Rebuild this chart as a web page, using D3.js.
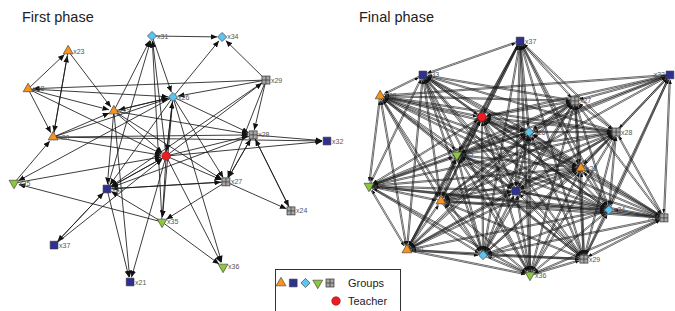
<!DOCTYPE html>
<html>
<head>
<meta charset="utf-8">
<script src="https://cdn.jsdelivr.net/npm/d3@7"></script>
<style>
  body { margin: 0; background: #fff; }
  svg { display: block; font-family: "Liberation Sans", Arial, sans-serif; }
</style>
</head>
<body>
<div id="chart"></div>
<script>
// ---- data: first phase ----
const firstNames  = ["x31","x34","x23","x29","x38","x26","x22","x30","x28","x32","T","x25","x33","x27","x24","x35","x37","x36","x21"];
const firstGroups = ["cyan","cyan","orange","grid","orange","cyan","orange","orange","grid","blue","teacher","green","blue","grid","grid","green","blue","green","blue"];
const firstLayoutX = [44.1, 66.5, 17.3, 80.5, 4.5, 50.8, 31.9, 12.5, 76.4, 100, 48.6, 0, 29.7, 67.7, 88.5, 47.3, 12.8, 66.8, 37.1];
const firstLayoutY = [0, 0.4, 6.1, 17.9, 21.5, 24.8, 30.5, 41.1, 40.2, 42.7, 48.8, 59.8, 62.2, 59.3, 71.1, 75.6, 85.0, 93.9, 100];
const firstEdges = [
  ["x31","x34"],["x29","x34"],["x26","x34"],["x22","x31"],["T","x31"],["x31","x26"],["x33","x31"],["x35","x31"],
  ["x38","x23"],["x30","x23"],["x23","x22"],["x23","x30"],["x38","x26"],["x38","x22"],["x38","x30"],["x38","T"],
  ["x29","x38"],["x22","x26"],["x26","x22"],["x22","T"],["x22","x28"],["x22","x27"],["x22","x33"],["x22","x21"],
  ["x30","x26"],["x30","x22"],["x30","T"],["x30","x28"],["x25","x30"],["x26","T"],["T","x26"],["x26","x28"],
  ["x29","x26"],["x26","x27"],["x26","x35"],["x26","x33"],["x26","x25"],["T","x28"],["T","x32"],["T","x27"],
  ["T","x35"],["x33","T"],["T","x33"],["x25","T"],["T","x36"],["T","x29"],["x29","x28"],["x29","x27"],
  ["x29","x33"],["x28","x32"],["x28","x27"],["x27","x28"],["x28","x24"],["x28","x33"],["x27","x24"],["x27","x33"],
  ["x33","x27"],["x27","x35"],["x35","x33"],["x35","x25"],["x33","x37"],["x37","x33"],["x33","x21"],["x35","x36"],
  ["T","x21"],["x37","T"],["x26","x36"],["x24","x28"],["x30","x32"]
];

// ---- data: final phase ----
const finalNames  = ["x37","x33","x32","x38","x27","T","x26","x28","x25","x23","x35","x21","x22","x34","x24","x30","x31","x29","x36"];
const finalGroups = ["blue","blue","blue","orange","grid","teacher","cyan","grid","green","orange","green","blue","orange","cyan","grid","orange","cyan","grid","green"];
const finalLayoutX = [50.2, 17.9, 100, 3.7, 68.4, 37.5, 53.2, 82.1, 29.2, 70.4, 0, 48.8, 23.9, 79.7, 98.0, 12.6, 37.9, 71.4, 53.5];
const finalLayoutY = [0, 14.5, 14.5, 23.5, 25.6, 32.5, 38.9, 38.9, 48.7, 54.3, 62.0, 64.1, 68.4, 72.2, 75.6, 89.3, 91.5, 93.2, 100];
const finalTies = {
  x37: ["x33","x27","T","x26","x28","x25","x23","x21","x22","x31","x29","x36","x34","x30"],
  x33: ["x38","x27","T","x26","x28","x25","x23","x35","x21","x22","x30","x31","x29","x36","x34"],
  x32: ["x27","x38","T","x28","x23","x34","x24","x29","x25","x26","x22"],
  x38: ["x27","T","x26","x28","x25","x23","x35","x21","x22","x30","x34","x24","x31","x29"],
  x27: ["T","x26","x28","x25","x23","x35","x21","x22","x34","x24","x30","x31","x29","x36"],
  T:   ["x26","x28","x25","x23","x35","x21","x22","x34","x24","x30","x31","x29","x36"],
  x26: ["x28","x25","x23","x35","x21","x22","x34","x24","x30","x31","x29","x36"],
  x28: ["x25","x23","x35","x21","x22","x34","x24","x30","x31","x29","x36"],
  x25: ["x23","x35","x21","x22","x34","x24","x30","x31","x29","x36"],
  x23: ["x35","x21","x22","x34","x24","x30","x31","x29","x36"],
  x35: ["x21","x22","x34","x24","x30","x31","x36"],
  x21: ["x22","x34","x24","x30","x31","x29","x36"],
  x22: ["x34","x24","x30","x31","x29","x36"],
  x34: ["x24","x30","x31","x29","x36"],
  x24: ["x31","x29","x36"],
  x30: ["x31","x29","x36"],
  x31: ["x29","x36"],
  x29: ["x36"]
};

const legendSymbols = ["orange","blue","cyan","green","grid"];

const colour = {
  orange: "#f7941d", blue: "#2e3192", cyan: "#5bc4f1",
  green: "#8dc63f", grid: "#a5a5a5", teacher: "#ed1c24"
};

const width = 675, height = 311;
const svg = d3.select("#chart").append("svg")
  .attr("width", width).attr("height", height);

const defs = svg.append("defs");
function addMarker(id, len, half) {
  defs.append("marker")
    .attr("id", id)
    .attr("viewBox", `0 ${-half} ${len} ${half * 2}`)
    .attr("refX", len).attr("refY", 0)
    .attr("markerWidth", len).attr("markerHeight", half * 2)
    .attr("markerUnits", "userSpaceOnUse")
    .attr("orient", "auto")
    .append("path")
    .attr("d", `M0,${-half}L${len},0L0,${half}Z`)
    .attr("fill", "#111");
}
addMarker("arrowBig", 6.5, 2.8);
addMarker("arrowSmall", 4, 1.6);

function drawSymbol(g, group, x, y) {
  const stroke = "#333";
  if (group === "teacher") {
    g.append("circle").attr("cx", x).attr("cy", y).attr("r", 4.3)
      .attr("fill", colour.teacher).attr("stroke", "#7a0000").attr("stroke-width", 0.5);
  } else if (group === "grid") {
    g.append("rect").attr("x", x - 4).attr("y", y - 4).attr("width", 8).attr("height", 8)
      .attr("fill", colour.grid).attr("stroke", stroke).attr("stroke-width", 0.7);
    g.append("path").attr("d", `M${x - 4},${y}H${x + 4}M${x},${y - 4}V${y + 4}`)
      .attr("stroke", stroke).attr("stroke-width", 0.7);
  } else {
    let type = d3.symbolSquare, size = 60, rot = 0;
    if (group === "orange") { type = d3.symbolTriangle; size = 42; }
    if (group === "green") { type = d3.symbolTriangle; size = 42; rot = 180; }
    if (group === "cyan") { type = d3.symbolSquare; size = 42; rot = 45; }
    g.append("path")
      .attr("d", d3.symbol().type(type).size(size)())
      .attr("transform", `translate(${x},${y}) rotate(${rot})`)
      .attr("fill", colour[group]).attr("stroke", stroke).attr("stroke-width", 0.6);
  }
}

function drawNetwork(opt) {
  const xs = d3.scaleLinear().domain([0, 100]).range(opt.xRange);
  const ys = d3.scaleLinear().domain([0, 100]).range(opt.yRange);
  const pos = {};
  opt.names.forEach((n, i) => {
    pos[n] = { x: xs(opt.lx[i]), y: ys(opt.ly[i]), group: opt.groups[i], name: n };
  });
  const g = svg.append("g");
  g.append("text").attr("x", opt.titleX).attr("y", 22)
    .attr("font-size", 14.5).attr("fill", "#222").text(opt.title);

  const eg = g.append("g");
  opt.edges.forEach(([s, t]) => {
    const a = pos[s], b = pos[t];
    const dx = b.x - a.x, dy = b.y - a.y, len = Math.hypot(dx, dy);
    const ux = dx / len, uy = dy / len;
    const off = opt.offset;
    const ox = -uy * off, oy = ux * off;
    eg.append("line")
      .attr("x1", a.x + ux * 3 + ox).attr("y1", a.y + uy * 3 + oy)
      .attr("x2", b.x - ux * opt.gap + ox).attr("y2", b.y - uy * opt.gap + oy)
      .attr("stroke", "#1a1a1a").attr("stroke-width", opt.sw)
      .attr("marker-end", `url(#${opt.marker})`);
  });

  const ng = g.append("g");
  Object.values(pos).forEach(p => drawSymbol(ng, p.group, p.x, p.y));
  const lg = g.append("g");
  Object.values(pos).forEach(p => {
    if (p.group === "teacher") return;
    // labels that would run off the page go on the left of their node
    const flip = p.x + 16 > width;
    lg.append("text").attr("x", flip ? p.x - 5 : p.x + 5).attr("y", p.y + 2.5)
      .attr("text-anchor", flip ? "end" : "start")
      .attr("font-size", 7).attr("fill", "#555").text(p.name);
  });
}

drawNetwork({
  title: "First phase", titleX: 22,
  names: firstNames, groups: firstGroups, lx: firstLayoutX, ly: firstLayoutY,
  edges: firstEdges, xRange: [14, 327], yRange: [36, 282],
  offset: 0, gap: 5, sw: 0.85, marker: "arrowBig"
});

// reciprocal ties in the final phase: one line each way
const finalEdges = [];
Object.entries(finalTies).forEach(([s, list]) => {
  list.forEach(t => { finalEdges.push([s, t]); finalEdges.push([t, s]); });
});
drawNetwork({
  title: "Final phase", titleX: 359,
  names: finalNames, groups: finalGroups, lx: finalLayoutX, ly: finalLayoutY,
  edges: finalEdges, xRange: [369, 670], yRange: [41, 275],
  offset: 0.6, gap: 5, sw: 0.65, marker: "arrowSmall"
});

// legend
const leg = svg.append("g");
leg.append("rect").attr("x", 275.5).attr("y", 269.5).attr("width", 125).attr("height", 50)
  .attr("fill", "#fff").attr("stroke", "#333").attr("stroke-width", 1);
const legX = d3.scalePoint().domain(legendSymbols).range([281, 330]);
legendSymbols.forEach(gp => drawSymbol(leg, gp, legX(gp), 283));
drawSymbol(leg, "teacher", 336, 301);
leg.append("text").attr("x", 348).attr("y", 287).attr("font-size", 11).attr("fill", "#222").text("Groups");
leg.append("text").attr("x", 348).attr("y", 305).attr("font-size", 11).attr("fill", "#222").text("Teacher");
</script>
</body>
</html>
